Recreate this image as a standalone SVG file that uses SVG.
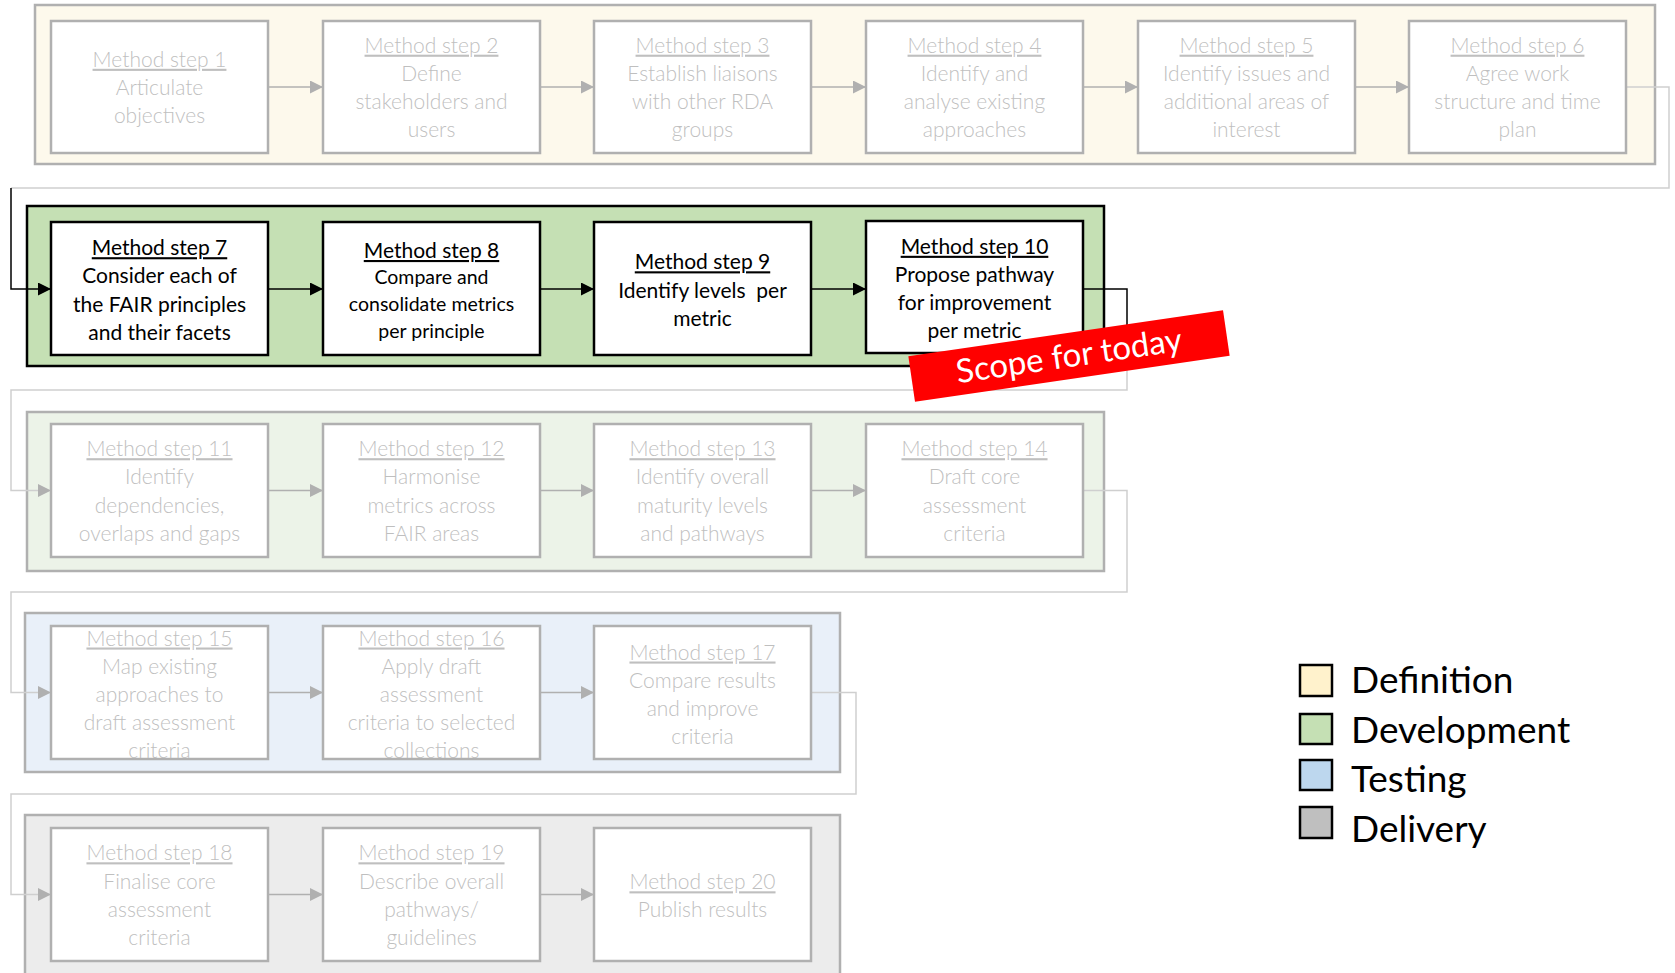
<svg xmlns="http://www.w3.org/2000/svg" width="1675" height="973" viewBox="0 0 1675 973">
  <style>
    .t { font-family: Lato, "Liberation Sans", sans-serif; font-size: 21px; text-anchor: middle; }
    .faded { fill: #bfbfbf; font-weight: 300; }
    .dark { fill: #000000; }
    .small { font-size: 19.5px; }
    .u { text-decoration: underline; }
    .box-f { fill: #ffffff; stroke: #b0b0b0; stroke-width: 2.5; }
    .box-d { fill: #ffffff; stroke: #000000; stroke-width: 2.5; }
    .lane { stroke-width: 2.5; }
    .c-gray { fill: none; stroke: #b0b0b0; stroke-width: 1.5; }
    .c-light { fill: none; stroke: #cfcfcf; stroke-width: 1.5; }
    .c-dark { fill: none; stroke: #000000; stroke-width: 1.5; }
    .legend { font-family: Lato, "Liberation Sans", sans-serif; font-size: 37px; fill: #000000; }
    .key { stroke: #000000; stroke-width: 2.5; }
  </style>
  <defs>
    <marker id="ah-gray" viewBox="0 0 10 10" refX="10" refY="5" markerWidth="13" markerHeight="13" markerUnits="userSpaceOnUse" orient="auto">
      <path d="M0,0 L10,5 L0,10 z" fill="#b0b0b0"/>
    </marker>
    <marker id="ah-dark" viewBox="0 0 10 10" refX="10" refY="5" markerWidth="13" markerHeight="13" markerUnits="userSpaceOnUse" orient="auto">
      <path d="M0,0 L10,5 L0,10 z" fill="#000000"/>
    </marker>
  </defs>

  <!-- phase lanes -->
  <g id="lanes">
    <rect id="lane-definition" class="lane" x="35" y="5" width="1620" height="159" fill="#fdf9ec" stroke="#b0b0b0"/>
    <rect id="lane-development" class="lane" x="27" y="206" width="1077" height="160" fill="#c5e0b4" stroke="#000000"/>
    <rect id="lane-development-2" class="lane" x="27" y="412" width="1077" height="159" fill="#ecf3e8" stroke="#b0b0b0"/>
    <rect id="lane-testing" class="lane" x="25" y="613" width="815" height="159" fill="#e9f0f9" stroke="#b0b0b0"/>
    <rect id="lane-delivery" class="lane" x="25" y="815" width="815" height="175" fill="#ececec" stroke="#b0b0b0"/>
  </g>

  <!-- connectors -->
  <g id="connectors">
    <!-- row 1 -->
    <path class="c-gray" d="M268,87 H323" marker-end="url(#ah-gray)"/>
    <path class="c-gray" d="M540,87 H594" marker-end="url(#ah-gray)"/>
    <path class="c-gray" d="M811,87 H866" marker-end="url(#ah-gray)"/>
    <path class="c-gray" d="M1083,87 H1138" marker-end="url(#ah-gray)"/>
    <path class="c-gray" d="M1355,87 H1409" marker-end="url(#ah-gray)"/>
    <path class="c-light" d="M1626,87 H1669 V188 H11"/>
    <path class="c-dark" d="M11,188 V289 H51" marker-end="url(#ah-dark)"/>
    <!-- row 2 -->
    <path class="c-dark" d="M268,289 H323" marker-end="url(#ah-dark)"/>
    <path class="c-dark" d="M540,289 H594" marker-end="url(#ah-dark)"/>
    <path class="c-dark" d="M811,289 H866" marker-end="url(#ah-dark)"/>
    <path class="c-dark" d="M1083,289 H1127 V345"/>
    <path class="c-light" d="M1127,345 V390 H11 V490.5 H51" marker-end="url(#ah-gray)"/>
    <!-- row 3 -->
    <path class="c-gray" d="M268,490.5 H323" marker-end="url(#ah-gray)"/>
    <path class="c-gray" d="M540,490.5 H594" marker-end="url(#ah-gray)"/>
    <path class="c-gray" d="M811,490.5 H866" marker-end="url(#ah-gray)"/>
    <path class="c-light" d="M1083,490.5 H1127 V592 H11 V692.5 H51" marker-end="url(#ah-gray)"/>
    <!-- row 4 -->
    <path class="c-gray" d="M268,692.5 H323" marker-end="url(#ah-gray)"/>
    <path class="c-gray" d="M540,692.5 H594" marker-end="url(#ah-gray)"/>
    <path class="c-light" d="M811,692.5 H856 V794 H11 V894.5 H51" marker-end="url(#ah-gray)"/>
    <!-- row 5 -->
    <path class="c-gray" d="M268,894.5 H323" marker-end="url(#ah-gray)"/>
    <path class="c-gray" d="M540,894.5 H594" marker-end="url(#ah-gray)"/>
  </g>

  <!-- definition steps -->
  <g id="step1">
    <rect class="box-f" x="51" y="21" width="217" height="132"/>
    <text class="t faded"><tspan class="u" x="159.5" y="66.8">Method step 1</tspan><tspan x="159.5" y="95">Articulate</tspan><tspan x="159.5" y="123.2">objectives</tspan></text>
  </g>
  <g id="step2">
    <rect class="box-f" x="323" y="21" width="217" height="132"/>
    <text class="t faded"><tspan class="u" x="431.5" y="52.7">Method step 2</tspan><tspan x="431.5" y="80.9">Define</tspan><tspan x="431.5" y="109.1">stakeholders and</tspan><tspan x="431.5" y="137.3">users</tspan></text>
  </g>
  <g id="step3">
    <rect class="box-f" x="594" y="21" width="217" height="132"/>
    <text class="t faded"><tspan class="u" x="702.5" y="52.7">Method step 3</tspan><tspan x="702.5" y="80.9">Establish liaisons</tspan><tspan x="702.5" y="109.1">with other RDA</tspan><tspan x="702.5" y="137.3">groups</tspan></text>
  </g>
  <g id="step4">
    <rect class="box-f" x="866" y="21" width="217" height="132"/>
    <text class="t faded"><tspan class="u" x="974.5" y="52.7">Method step 4</tspan><tspan x="974.5" y="80.9">Identify and</tspan><tspan x="974.5" y="109.1">analyse existing</tspan><tspan x="974.5" y="137.3">approaches</tspan></text>
  </g>
  <g id="step5">
    <rect class="box-f" x="1138" y="21" width="217" height="132"/>
    <text class="t faded"><tspan class="u" x="1246.5" y="52.7">Method step 5</tspan><tspan x="1246.5" y="80.9">Identify issues and</tspan><tspan x="1246.5" y="109.1">additional areas of</tspan><tspan x="1246.5" y="137.3">interest</tspan></text>
  </g>
  <g id="step6">
    <rect class="box-f" x="1409" y="21" width="217" height="132"/>
    <text class="t faded"><tspan class="u" x="1517.5" y="52.7">Method step 6</tspan><tspan x="1517.5" y="80.9">Agree work</tspan><tspan x="1517.5" y="109.1">structure and time</tspan><tspan x="1517.5" y="137.3">plan</tspan></text>
  </g>

  <!-- development steps (current scope) -->
  <g id="step7">
    <rect class="box-d" x="51" y="222" width="217" height="133"/>
    <text class="t dark"><tspan class="u" x="159.5" y="255.2">Method step 7</tspan><tspan x="159.5" y="283.4">Consider each of</tspan><tspan x="159.5" y="311.6">the FAIR principles</tspan><tspan x="159.5" y="339.8">and their facets</tspan></text>
  </g>
  <g id="step8">
    <rect class="box-d" x="323" y="222" width="217" height="133"/>
    <text class="t dark"><tspan class="u" x="431.5" y="258">Method step 8</tspan><tspan class="small" x="431.5" y="284.2">Compare and</tspan><tspan class="small" x="431.5" y="310.9">consolidate metrics</tspan><tspan class="small" x="431.5" y="337.6">per principle</tspan></text>
  </g>
  <g id="step9">
    <rect class="box-d" x="594" y="222" width="217" height="133"/>
    <text class="t dark" xml:space="preserve"><tspan class="u" x="702.5" y="269.3">Method step 9</tspan><tspan x="702.5" y="297.5">Identify levels  per</tspan><tspan x="702.5" y="325.7">metric</tspan></text>
  </g>
  <g id="step10">
    <rect class="box-d" x="866" y="221" width="217" height="132"/>
    <text class="t dark"><tspan class="u" x="974.5" y="253.8">Method step 10</tspan><tspan x="974.5" y="281.8">Propose pathway</tspan><tspan x="974.5" y="310">for improvement</tspan><tspan x="974.5" y="338">per metric</tspan></text>
  </g>

  <!-- development steps (later) -->
  <g id="step11">
    <rect class="box-f" x="51" y="424" width="217" height="133"/>
    <text class="t faded"><tspan class="u" x="159.5" y="456.2">Method step 11</tspan><tspan x="159.5" y="484.4">Identify</tspan><tspan x="159.5" y="512.6">dependencies,</tspan><tspan x="159.5" y="540.8">overlaps and gaps</tspan></text>
  </g>
  <g id="step12">
    <rect class="box-f" x="323" y="424" width="217" height="133"/>
    <text class="t faded"><tspan class="u" x="431.5" y="456.2">Method step 12</tspan><tspan x="431.5" y="484.4">Harmonise</tspan><tspan x="431.5" y="512.6">metrics across</tspan><tspan x="431.5" y="540.8">FAIR areas</tspan></text>
  </g>
  <g id="step13">
    <rect class="box-f" x="594" y="424" width="217" height="133"/>
    <text class="t faded"><tspan class="u" x="702.5" y="456.2">Method step 13</tspan><tspan x="702.5" y="484.4">Identify overall</tspan><tspan x="702.5" y="512.6">maturity levels</tspan><tspan x="702.5" y="540.8">and pathways</tspan></text>
  </g>
  <g id="step14">
    <rect class="box-f" x="866" y="424" width="217" height="133"/>
    <text class="t faded"><tspan class="u" x="974.5" y="456.2">Method step 14</tspan><tspan x="974.5" y="484.4">Draft core</tspan><tspan x="974.5" y="512.6">assessment</tspan><tspan x="974.5" y="540.8">criteria</tspan></text>
  </g>

  <!-- testing steps -->
  <g id="step15">
    <rect class="box-f" x="51" y="626" width="217" height="133"/>
    <text class="t faded"><tspan class="u" x="159.5" y="645.5">Method step 15</tspan><tspan x="159.5" y="673.7">Map existing</tspan><tspan x="159.5" y="701.9">approaches to</tspan><tspan x="159.5" y="730.1">draft assessment</tspan><tspan x="159.5" y="758.3">criteria</tspan></text>
  </g>
  <g id="step16">
    <rect class="box-f" x="323" y="626" width="217" height="133"/>
    <text class="t faded"><tspan class="u" x="431.5" y="645.5">Method step 16</tspan><tspan x="431.5" y="673.7">Apply draft</tspan><tspan x="431.5" y="701.9">assessment</tspan><tspan x="431.5" y="730.1">criteria to selected</tspan><tspan x="431.5" y="758.3">collections</tspan></text>
  </g>
  <g id="step17">
    <rect class="box-f" x="594" y="626" width="217" height="133"/>
    <text class="t faded"><tspan class="u" x="702.5" y="659.5">Method step 17</tspan><tspan x="702.5" y="687.7">Compare results</tspan><tspan x="702.5" y="715.9">and improve</tspan><tspan x="702.5" y="744.1">criteria</tspan></text>
  </g>

  <!-- delivery steps -->
  <g id="step18">
    <rect class="box-f" x="51" y="828" width="217" height="133"/>
    <text class="t faded"><tspan class="u" x="159.5" y="860.3">Method step 18</tspan><tspan x="159.5" y="888.5">Finalise core</tspan><tspan x="159.5" y="916.7">assessment</tspan><tspan x="159.5" y="944.9">criteria</tspan></text>
  </g>
  <g id="step19">
    <rect class="box-f" x="323" y="828" width="217" height="133"/>
    <text class="t faded"><tspan class="u" x="431.5" y="860.3">Method step 19</tspan><tspan x="431.5" y="888.5">Describe overall</tspan><tspan x="431.5" y="916.7">pathways/</tspan><tspan x="431.5" y="944.9">guidelines</tspan></text>
  </g>
  <g id="step20">
    <rect class="box-f" x="594" y="828" width="217" height="133"/>
    <text class="t faded"><tspan class="u" x="702.5" y="889.3">Method step 20</tspan><tspan x="702.5" y="917.1">Publish results</tspan></text>
  </g>

  <!-- scope banner -->
  <g id="scope-banner" transform="translate(1069,356) rotate(-8.3)">
    <rect x="-159" y="-23" width="318" height="46" fill="#ff0000"/>
    <text x="0" y="11" font-family="Lato, 'Liberation Sans', sans-serif" font-size="33" fill="#ffffff" text-anchor="middle">Scope for today</text>
  </g>

  <!-- legend -->
  <g id="legend">
    <rect class="key" x="1300" y="665" width="32" height="31" fill="#fff2cc"/>
    <text class="legend" x="1351" y="693">Definition</text>
    <rect class="key" x="1300" y="714" width="32" height="30" fill="#c5e0b4"/>
    <text class="legend" x="1351" y="743">Development</text>
    <rect class="key" x="1300" y="760" width="32" height="30" fill="#bdd7ee"/>
    <text class="legend" x="1351" y="792">Testing</text>
    <rect class="key" x="1300" y="807" width="32" height="31" fill="#bfbfbf"/>
    <text class="legend" x="1351" y="842">Delivery</text>
  </g>
</svg>
